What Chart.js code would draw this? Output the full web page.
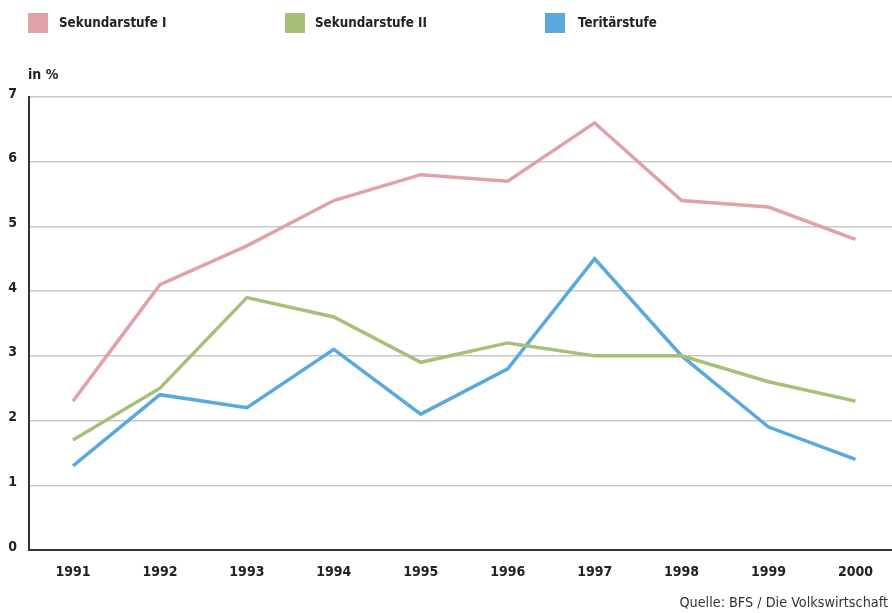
<!DOCTYPE html>
<html>
<head>
<meta charset="utf-8">
<script src="https://cdn.jsdelivr.net/npm/chart.js@4/dist/chart.umd.min.js"></script>
<style>
    body { margin: 0; background: #fff; }
    .wrap { position: relative; width: 892px; height: 613px; font-family: 'DejaVu Sans Condensed', 'DejaVu Sans', sans-serif; color: #222; }
    canvas { position: absolute; left: 0; top: 0; }
    .legend-item { position: absolute; top: 13px; height: 20px; line-height: 20px; font-weight: bold; font-size: 13.3px; }
    .legend-item span { position: absolute; left: 0; top: 0; width: 20px; height: 20px; }
    .unit { position: absolute; left: 28px; top: 66px; font-weight: bold; font-size: 14px; }
    .source { position: absolute; right: 4px; top: 594px; font-size: 14.3px; color: #333; }
</style>
</head>
<body>
<div class="wrap">
    <canvas id="chart" width="892" height="613"></canvas>
    <div class="legend-item" style="left:28px;"><span style="background:#e0a1a8"></span><b style="margin-left:31px">Sekundarstufe I</b></div>
    <div class="legend-item" style="left:285px;"><span style="background:#a8bf79"></span><b style="margin-left:30px">Sekundarstufe II</b></div>
    <div class="legend-item" style="left:545px;"><span style="background:#5aa9de"></span><b style="margin-left:33px">Teritärstufe</b></div>
    <div class="unit">in %</div>
    <div class="source">Quelle: BFS / Die Volkswirtschaft</div>
</div>
<script>
// Data
const years = [1991, 1992, 1993, 1994, 1995, 1996, 1997, 1998, 1999, 2000];
const sekundarstufe1 = [2.3, 4.1, 4.7, 5.4, 5.8, 5.7, 6.6, 5.4, 5.3, 4.8];
const sekundarstufe2 = [1.7, 2.5, 3.9, 3.6, 2.9, 3.2, 3.0, 3.0, 2.6, 2.3];
const tertiaerstufe = [1.3, 2.4, 2.2, 3.1, 2.1, 2.8, 4.5, 3.0, 1.9, 1.4];
const yTicks = [0, 1, 2, 3, 4, 5, 6, 7];

const toPoints = arr => arr.map((v, i) => ({ x: years[i], y: v }));

const line = (label, data, color) => ({
    label: label,
    data: toPoints(data),
    borderColor: color,
    backgroundColor: color,
    borderWidth: 3.5,
    pointRadius: 0,
    tension: 0,
    borderCapStyle: 'butt',
    borderJoinStyle: 'miter'
});

const tickFont = { family: "'DejaVu Sans Condensed', 'DejaVu Sans', sans-serif", size: 14, weight: 'bold' };

new Chart(document.getElementById('chart'), {
    type: 'line',
    data: {
        datasets: [
            line('Sekundarstufe I', sekundarstufe1, '#e0a1a8'),
            line('Sekundarstufe II', sekundarstufe2, '#a8bf79'),
            line('Teritärstufe', tertiaerstufe, '#5aa9de')
        ]
    },
    options: {
        responsive: false,
        animation: false,
        layout: { padding: { top: 97, right: 0, left: 0, bottom: 0 } },
        plugins: {
            legend: { display: false },
            tooltip: { enabled: false }
        },
        scales: {
            x: {
                type: 'linear',
                min: 1990.494,
                max: 2000.42,
                afterBuildTicks: s => { s.ticks = years.map(v => ({ value: v })); },
                afterFit: s => { s.height = 63; },
                ticks: {
                    font: tickFont,
                    color: '#222',
                    padding: 14,
                    callback: v => String(v),
                    maxRotation: 0
                },
                grid: { display: false, drawTicks: false },
                border: { color: '#333', width: 2 }
            },
            y: {
                min: 0,
                max: 7,
                afterBuildTicks: s => { s.ticks = yTicks.map(v => ({ value: v })); },
                afterFit: s => { s.width = 29; },
                ticks: {
                    font: tickFont,
                    color: '#222',
                    padding: 12,
                    labelOffset: -3
                },
                grid: {
                    color: ctx => ctx.tick && ctx.tick.value === 0 ? 'rgba(0,0,0,0)' : '#c8c8c8',
                    lineWidth: 1.5,
                    drawTicks: false
                },
                border: { color: '#333', width: 2 }
            }
        }
    }
});
</script>
</body>
</html>
